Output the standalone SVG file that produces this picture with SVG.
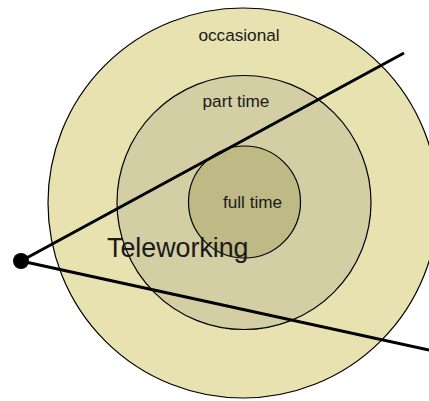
<svg xmlns="http://www.w3.org/2000/svg" width="429" height="401" viewBox="0 0 429 401">
<style>
.ring{stroke:#000;stroke-width:1.2}
.lbl{font-family:"Liberation Sans",Arial,sans-serif;fill:#1a1a1a;text-anchor:middle}
.conn{stroke:#000;stroke-width:3;fill:none}
</style>
<rect width="429" height="401" fill="#fff"/>
<g id="occasional">
<circle class="ring" cx="243" cy="203" r="195" fill="#E8E1B0"/>
<text class="lbl" x="239" y="41" font-size="17.2">occasional</text>
</g>
<g id="part-time">
<circle class="ring" cx="244" cy="202.5" r="127" fill="#D3CEA3"/>
<text class="lbl" x="236" y="107" font-size="17.2">part time</text>
</g>
<g id="full-time">
<circle class="ring" cx="244.5" cy="202" r="56" fill="#BFBA85"/>
<text class="lbl" x="252.5" y="208" font-size="17.2">full time</text>
</g>
<g id="connectors">
<line class="conn" x1="21" y1="261" x2="404" y2="53"/>
<line class="conn" x1="21" y1="261" x2="429" y2="350"/>
</g>
<g id="teleworking">
<circle cx="21" cy="261" r="8" fill="#000"/>
<text x="107" y="257" font-family="Liberation Sans,Arial,sans-serif" font-size="26.8" fill="#1a1a1a">Teleworking</text>
</g>
</svg>
